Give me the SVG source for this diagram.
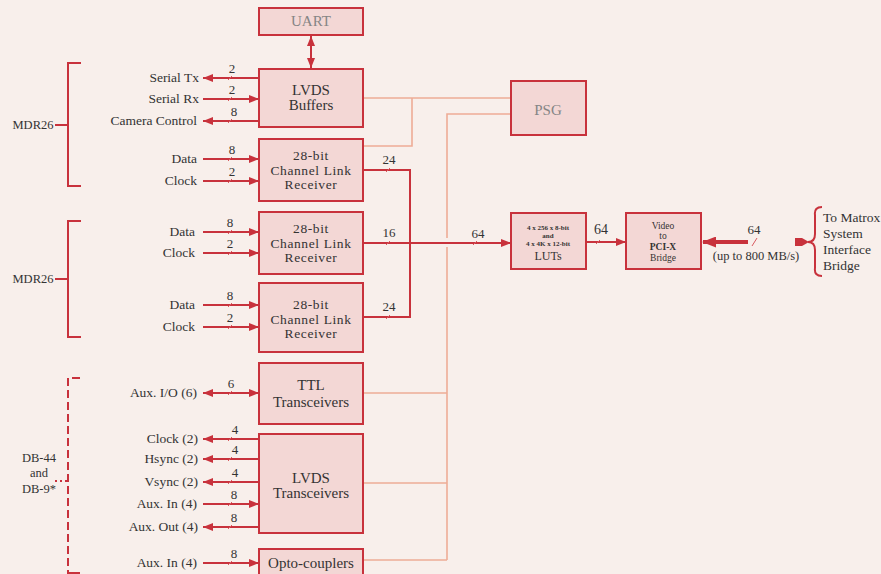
<svg xmlns="http://www.w3.org/2000/svg" width="881" height="574" viewBox="0 0 881 574" font-family="'Liberation Serif', 'Times New Roman', serif">
<defs>
<marker id="ah" viewBox="0 0 10 8" refX="10" refY="4" markerWidth="10" markerHeight="8" markerUnits="userSpaceOnUse" orient="auto-start-reverse">
<path d="M0,0 L10,4 L0,8 Z" fill="#c8323c"/>
</marker>
<marker id="ahb" viewBox="0 0 14 11" refX="13" refY="5.5" markerWidth="14" markerHeight="11" markerUnits="userSpaceOnUse" orient="auto">
<path d="M0,0 L14,5.5 L0,11 Z" fill="#c8323c"/>
</marker>
<style>
.box{fill:#f3d7d5;stroke:#c8323c;stroke-width:2}
.sig{stroke:#c8323c;stroke-width:2;fill:none}
.lt{stroke:#eeac96;stroke-width:1.6;fill:none}
.tk{stroke:#d95a60;stroke-width:1}
.brk{stroke:#c8323c;stroke-width:2;fill:none}
text{font-family:'Liberation Serif','Times New Roman',serif;fill:#333333}
.lbl{font-size:13.5px;text-anchor:end}
.num{font-size:13px;text-anchor:middle}
.bt{font-size:15px;text-anchor:middle}
.cl{font-size:13.5px;letter-spacing:0.6px;text-anchor:middle}
.gt{fill:#858585}
</style>
</defs>
<rect width="881" height="574" fill="#f8efeb"/>

<g id="connectors">
<polyline class="lt" points="363,98 511,98"/>
<polyline class="lt" points="412,98 412,146 363,146"/>
<polyline class="lt" points="511,114 447,114 447,238"/>
<polyline class="lt" points="447,247 447,560"/>
<line class="lt" x1="363" y1="393" x2="447" y2="393"/>
<line class="lt" x1="363" y1="483" x2="447" y2="483"/>
<line class="lt" x1="363" y1="560" x2="447" y2="560"/>

<line class="sig" x1="311" y1="36" x2="311" y2="68" marker-start="url(#ah)" marker-end="url(#ah)"/>

<line class="sig" x1="259" y1="78" x2="203" y2="78" marker-end="url(#ah)"/>
<line class="sig" x1="203" y1="99" x2="259" y2="99" marker-end="url(#ah)"/>
<line class="sig" x1="259" y1="121" x2="203" y2="121" marker-end="url(#ah)"/>
<line class="sig" x1="203" y1="159" x2="259" y2="159" marker-end="url(#ah)"/>
<line class="sig" x1="203" y1="181" x2="259" y2="181" marker-end="url(#ah)"/>
<line class="sig" x1="203" y1="232" x2="259" y2="232" marker-end="url(#ah)"/>
<line class="sig" x1="203" y1="253" x2="259" y2="253" marker-end="url(#ah)"/>
<line class="sig" x1="203" y1="305" x2="259" y2="305" marker-end="url(#ah)"/>
<line class="sig" x1="203" y1="327" x2="259" y2="327" marker-end="url(#ah)"/>
<line class="sig" x1="203" y1="393" x2="259" y2="393" marker-start="url(#ah)" marker-end="url(#ah)"/>
<line class="sig" x1="259" y1="439" x2="203" y2="439" marker-end="url(#ah)"/>
<line class="sig" x1="259" y1="459" x2="203" y2="459" marker-end="url(#ah)"/>
<line class="sig" x1="259" y1="482" x2="203" y2="482" marker-end="url(#ah)"/>
<line class="sig" x1="203" y1="504" x2="259" y2="504" marker-end="url(#ah)"/>
<line class="sig" x1="259" y1="527" x2="203" y2="527" marker-end="url(#ah)"/>
<line class="sig" x1="203" y1="563" x2="259" y2="563" marker-end="url(#ah)"/>

<polyline class="sig" points="363,170 410,170 410,317 363,317"/>
<line class="sig" x1="363" y1="243" x2="511" y2="243" marker-end="url(#ah)"/>
<line class="sig" x1="586" y1="242" x2="626" y2="242" marker-end="url(#ah)"/>
<line x1="748" y1="242" x2="703" y2="242" stroke="#c8323c" stroke-width="4" marker-end="url(#ahb)"/>
<polygon points="795,238 802,238 809,242 802,246 795,246" fill="#c8323c"/>

<g class="tk">
<line x1="228" y1="80" x2="232" y2="76"/>
<line x1="228" y1="101" x2="232" y2="97"/>
<line x1="228" y1="123" x2="232" y2="119"/>
<line x1="228" y1="161" x2="232" y2="157"/>
<line x1="228" y1="183" x2="232" y2="179"/>
<line x1="228" y1="234" x2="232" y2="230"/>
<line x1="228" y1="255" x2="232" y2="251"/>
<line x1="228" y1="307" x2="232" y2="303"/>
<line x1="228" y1="329" x2="232" y2="325"/>
<line x1="228" y1="395" x2="232" y2="391"/>
<line x1="228" y1="441" x2="232" y2="437"/>
<line x1="228" y1="461" x2="232" y2="457"/>
<line x1="228" y1="484" x2="232" y2="480"/>
<line x1="228" y1="506" x2="232" y2="502"/>
<line x1="228" y1="529" x2="232" y2="525"/>
<line x1="228" y1="565" x2="232" y2="561"/>
<line x1="386" y1="172" x2="390" y2="168"/>
<line x1="386" y1="245" x2="390" y2="241"/>
<line x1="386" y1="319" x2="390" y2="315"/>
<line x1="473" y1="245" x2="477" y2="241"/>
<line x1="596" y1="244" x2="600" y2="240"/>
<line x1="752" y1="246" x2="757" y2="238"/>
</g>

<polyline class="brk" points="81,63 68,63 68,186 81,186"/>
<line class="brk" x1="55" y1="125" x2="68" y2="125"/>
<polyline class="brk" points="81,221 68,221 68,337 81,337"/>
<line class="brk" x1="55" y1="279" x2="68" y2="279"/>
<polyline class="brk" points="80,378 68,378 68,574" stroke-dasharray="8,4"/>
<line class="brk" x1="68" y1="573" x2="80" y2="573"/>
<line class="brk" x1="55" y1="481" x2="68" y2="481" stroke-dasharray="2,3"/>
<path class="brk" d="M822,207 Q814,207 815,215 L815,234 Q815,242 808,242 Q815,242 815,250 L815,268 Q814,276 822,276"/>
</g>

<g id="uart"><rect class="box" x="259" y="8" width="104" height="27"/><text class="bt gt" x="311" y="26" font-size="13">UART</text></g>
<g id="lvds-buffers"><rect class="box" x="259" y="69" width="104" height="58"/><text class="bt" x="311" y="95">LVDS</text><text class="bt" x="311" y="110">Buffers</text></g>
<g id="clr1"><rect class="box" x="259" y="139" width="104" height="62"/><text class="cl" x="311" y="160">28-bit</text><text class="cl" x="311" y="174.5">Channel  Link</text><text class="cl" x="311" y="189">Receiver</text></g>
<g id="clr2"><rect class="box" x="259" y="212" width="104" height="62"/><text class="cl" x="311" y="233">28-bit</text><text class="cl" x="311" y="247.5">Channel  Link</text><text class="cl" x="311" y="262">Receiver</text></g>
<g id="clr3"><rect class="box" x="259" y="283" width="104" height="69"/><text class="cl" x="311" y="309">28-bit</text><text class="cl" x="311" y="323.5">Channel  Link</text><text class="cl" x="311" y="338">Receiver</text></g>
<g id="ttl"><rect class="box" x="259" y="363" width="104" height="61"/><text class="bt" x="311" y="390" font-size="14">TTL</text><text class="bt" x="311" y="407" font-size="14">Transceivers</text></g>
<g id="lvds-transceivers"><rect class="box" x="259" y="434" width="104" height="99"/><text class="bt" x="311" y="483" font-size="14">LVDS</text><text class="bt" x="311" y="498" font-size="14">Transceivers</text></g>
<g id="opto"><rect class="box" x="259" y="549" width="104" height="30"/><text class="bt" x="311" y="568" font-size="14">Opto-couplers</text></g>
<g id="psg"><rect class="box" x="511" y="81" width="75" height="54"/><text class="bt gt" x="548" y="115" font-size="13">PSG</text></g>
<g id="luts"><rect class="box" x="511" y="213" width="75" height="56"/>
<text x="548" y="230" font-size="7" font-weight="bold" text-anchor="middle">4 x 256  x 8-bit</text>
<text x="548" y="238" font-size="7" font-weight="bold" text-anchor="middle">and</text>
<text x="548" y="246" font-size="7" font-weight="bold" text-anchor="middle">4 x 4K x 12-bit</text>
<text x="548" y="260" font-size="12" text-anchor="middle">LUTs</text></g>
<g id="bridge"><rect class="box" x="626" y="213" width="75" height="56"/>
<text x="663" y="229" font-size="9.5" text-anchor="middle">Video</text>
<text x="663" y="239" font-size="9.5" text-anchor="middle">to</text>
<text x="663" y="250" font-size="9.5" font-weight="bold" text-anchor="middle">PCI-X</text>
<text x="663" y="261" font-size="9.5" text-anchor="middle">Bridge</text></g>

<g id="labels">
<text class="lbl" x="199" y="82">Serial Tx</text>
<text class="lbl" x="199" y="103">Serial Rx</text>
<text class="lbl" x="197" y="125">Camera Control</text>
<text class="lbl" x="197" y="163">Data</text>
<text class="lbl" x="197" y="185">Clock</text>
<text class="lbl" x="195" y="236">Data</text>
<text class="lbl" x="195" y="257">Clock</text>
<text class="lbl" x="195" y="309">Data</text>
<text class="lbl" x="195" y="331">Clock</text>
<text class="lbl" x="197" y="397">Aux. I/O (6)</text>
<text class="lbl" x="198" y="443">Clock (2)</text>
<text class="lbl" x="198" y="463">Hsync (2)</text>
<text class="lbl" x="198" y="486">Vsync (2)</text>
<text class="lbl" x="197" y="508">Aux. In (4)</text>
<text class="lbl" x="198" y="531">Aux. Out (4)</text>
<text class="lbl" x="197" y="567">Aux. In (4)</text>
<text x="33" y="129" font-size="12.5" text-anchor="middle">MDR26</text>
<text x="33" y="283" font-size="12.5" text-anchor="middle">MDR26</text>
<text x="39" y="462" font-size="12.5" text-anchor="middle">DB-44</text>
<text x="39" y="477" font-size="12.5" text-anchor="middle">and</text>
<text x="39" y="493" font-size="12.5" text-anchor="middle">DB-9*</text>
<text class="num" x="232" y="73">2</text>
<text class="num" x="232" y="94">2</text>
<text class="num" x="234" y="116">8</text>
<text class="num" x="232" y="154">8</text>
<text class="num" x="232" y="176">2</text>
<text class="num" x="230" y="227">8</text>
<text class="num" x="230" y="248">2</text>
<text class="num" x="230" y="300">8</text>
<text class="num" x="230" y="322">2</text>
<text class="num" x="231" y="388">6</text>
<text class="num" x="235" y="434">4</text>
<text class="num" x="235" y="454">4</text>
<text class="num" x="235" y="477">4</text>
<text class="num" x="234" y="499">8</text>
<text class="num" x="234" y="522">8</text>
<text class="num" x="234" y="558">8</text>
<text x="389" y="164" font-size="13" text-anchor="middle">24</text>
<text x="389" y="237" font-size="13" text-anchor="middle">16</text>
<text x="389" y="311" font-size="13" text-anchor="middle">24</text>
<text x="478" y="238" font-size="13" text-anchor="middle">64</text>
<text x="601" y="234" font-size="14" text-anchor="middle">64</text>
<text x="754" y="234" font-size="13" text-anchor="middle">64</text>
<text x="756" y="260" font-size="12.5" text-anchor="middle">(up to 800 MB/s)</text>
<text x="823" y="222" font-size="13.5">To Matrox</text>
<text x="823" y="238" font-size="13.5">System</text>
<text x="823" y="254" font-size="13.5">Interface</text>
<text x="823" y="270" font-size="13.5">Bridge</text>
</g>
</svg>
